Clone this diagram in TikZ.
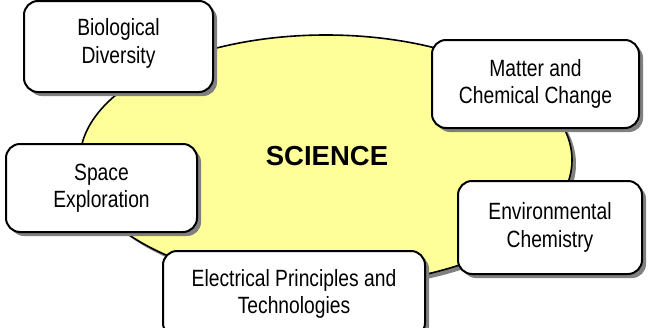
\documentclass[tikz,border=0pt]{standalone}
\usepackage{fontspec}
\setmainfont{Liberation Sans}
\newfontfamily\lbl{Liberation Sans}[FakeStretch=0.82]
\usetikzlibrary{shapes.geometric,shadows}
\definecolor{sciyellow}{RGB}{255,255,153}
\definecolor{shadowgray}{RGB}{128,128,128}
\tikzset{
  shad/.style={drop shadow={shadow xshift=4pt, shadow yshift=-4pt, fill=shadowgray, opacity=1}},
  topic/.style={shad, draw=black, line width=2pt, fill=white, rounded corners=14pt,
    inner sep=0pt, align=center, font=\lbl\fontsize{23.5}{27.5}\selectfont},
  core/.style={shad, ellipse, draw=black, line width=1.6pt, fill=sciyellow, inner sep=0pt,
    minimum width=492pt, minimum height=250pt}
}
\begin{document}
\begin{tikzpicture}[x=1pt,y=-1pt]
\useasboundingbox (0,0) rectangle (648,327);
\node[core] (sci) at (326,160) {};
\node[font=\bfseries\fontsize{27.5}{30}\selectfont] (scitext) at (327,156.5) {SCIENCE};
\node[topic, minimum width=189pt, minimum height=91pt, text depth=11pt] (bio) at (118.5,46.5) {Biological\\Diversity};
\node[topic, minimum width=207pt, minimum height=88pt] (matter) at (535.5,84) {Matter and\\Chemical Change};
\node[topic, minimum width=191pt, minimum height=88pt] (space) at (101.5,188) {Space\\Exploration};
\node[topic, minimum width=184pt, minimum height=93pt] (env) at (550,227.5) {Environmental\\Chemistry};
\node[topic, minimum width=262pt, minimum height=86pt] (elec) at (294,294) {Electrical Principles and\\Technologies};
\end{tikzpicture}
\end{document}
